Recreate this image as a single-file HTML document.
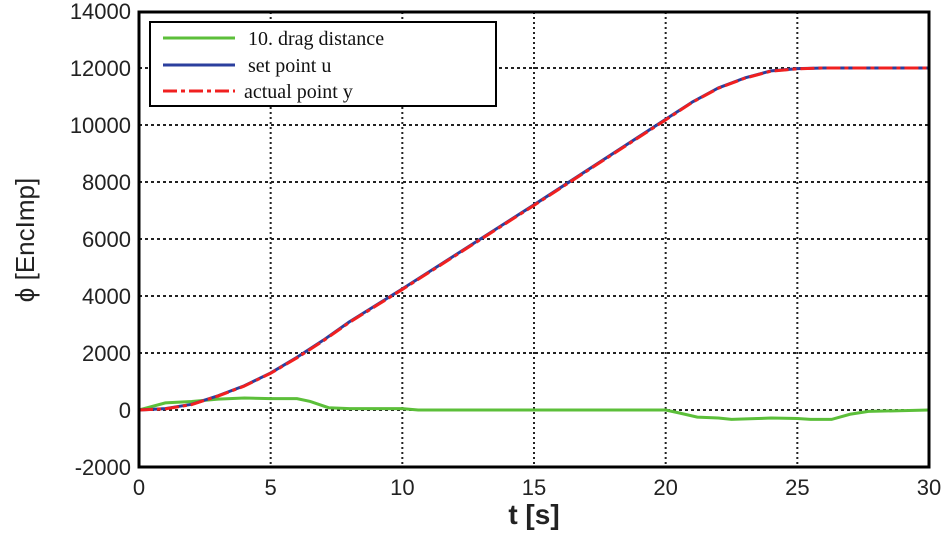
<!DOCTYPE html>
<html><head><meta charset="utf-8"><style>
body{margin:0;background:#fff;width:950px;height:531px;overflow:hidden}
text{font-family:"Liberation Sans",Arial,sans-serif}
</style></head><body>
<svg id="chart" width="950" height="531" xmlns="http://www.w3.org/2000/svg">
<g id="grid"></g>
<g id="series"></g>
<rect x="139" y="12" width="790" height="455" fill="none" stroke="#000" stroke-width="3"/>
<g id="ticks"></g>
<text x="34" y="240" transform="rotate(-90 34 240)" text-anchor="middle" font-size="26" fill="#222">ϕ [EncImp]</text>
<text x="534" y="524" text-anchor="middle" font-size="28" font-weight="bold" fill="#222">t [s]</text>
<g>
<rect x="150" y="22" width="346" height="84" fill="#fff" stroke="#000" stroke-width="2"/>
<g><line x1="163" y1="38" x2="235" y2="38" stroke="#5cbf3a" stroke-width="3"/><text x="248" y="45" font-size="20" fill="#111" style="font-family:'Liberation Serif',serif">10. drag distance</text></g>
<g><line x1="163" y1="65" x2="235" y2="65" stroke="#2b3f9e" stroke-width="3"/><text x="248" y="72" font-size="20" fill="#111" style="font-family:'Liberation Serif',serif">set point u</text></g>
<g><line x1="163" y1="91" x2="235" y2="91" stroke="#f02020" stroke-width="3" stroke-dasharray="14,4,4,4"/><text x="244" y="98" font-size="20" fill="#111" style="font-family:'Liberation Serif',serif">actual point y</text></g>
</g>
</svg>
<script>
const xTicks=[0,5,10,15,20,25,30];
const yTicks=[-2000,0,2000,4000,6000,8000,10000,12000,14000];
const setT=[0,1,2,3,4,5,6,7,8,10,15,20,21,22,23,24,25,26,30];
const setV=[0,50,200,500,850,1300,1850,2450,3100,4250,7200,10200,10800,11300,11650,11900,11980,12000,12000];
const actV=[0,40,190,490,840,1290,1830,2430,3080,4230,7180,10180,10790,11290,11640,11890,11970,12000,12000];
const dragT=[0,1,2,3,4,5,6,6.5,7.2,8,10,10.6,20,20.5,21.2,22,22.5,23.5,24,25,25.5,26.3,27,27.7,30];
const dragV=[0,250,300,380,420,400,400,300,80,50,50,0,0,-100,-250,-280,-330,-300,-280,-300,-330,-330,-150,-50,0];
const NS="http://www.w3.org/2000/svg";
const X=t=>139+t*(790/30), Y=v=>410-v*(57/2000);
function mk(tag,attrs,parent){const e=document.createElementNS(NS,tag);for(const k in attrs)e.setAttribute(k,attrs[k]);document.getElementById(parent).appendChild(e);return e;}
xTicks.forEach(t=>{
 if(t>0&&t<30){const g=mk('line',{x1:X(t),x2:X(t),y1:12,y2:467,stroke:'#222','stroke-width':2,'stroke-dasharray':'2,3'},'grid');
 
 }
 const l=mk('text',{x:X(t),y:495,'text-anchor':'middle','font-size':22,fill:'#222'},'ticks');l.textContent=t;
 
 
});
yTicks.forEach(v=>{
 if(v>-2000&&v<14000){const g=mk('line',{x1:139,x2:929,y1:Y(v),y2:Y(v),stroke:'#222','stroke-width':2,'stroke-dasharray':'3,3'},'grid');
 
 }
 const l=mk('text',{x:131,y:Y(v)+8,'text-anchor':'end','font-size':22,fill:'#222'},'ticks');l.textContent=v;
 
 
});
function pts(T,V){return T.map((t,i)=>X(t)+','+Y(V[i])).join(' ');}
const d=mk('polyline',{points:pts(dragT,dragV),fill:'none',stroke:'#5cbf3a','stroke-width':3},'series');


const s=mk('polyline',{points:pts(setT,setV),fill:'none',stroke:'#2b3f9e','stroke-width':3,'stroke-linejoin':'round'},'series');


const a=mk('polyline',{points:pts(setT,actV),fill:'none',stroke:'#f02020','stroke-width':3,'stroke-dasharray':'14,4,4,4','stroke-linejoin':'round'},'series');


</script>
</body></html>
